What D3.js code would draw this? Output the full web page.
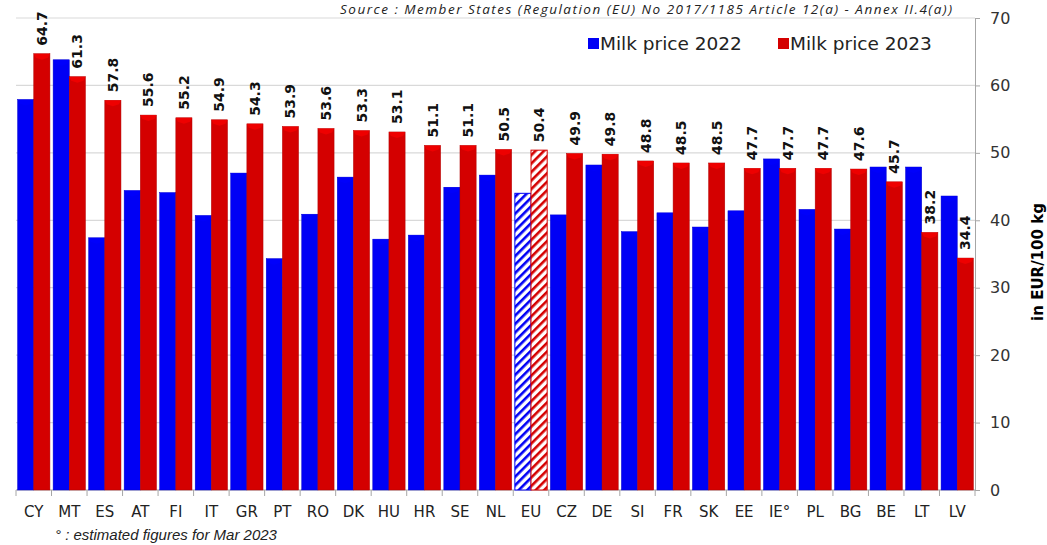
<!DOCTYPE html>
<html>
<head>
<meta charset="utf-8">
<script src="https://cdn.jsdelivr.net/npm/d3@7"></script>
<style>
  body { margin: 0; background: #fff; }
  svg { display: block; font-family: "DejaVu Sans", Verdana, sans-serif; }
</style>
</head>
<body>
<div id="app"></div>
<script>
const countries = ['CY', 'MT', 'ES', 'AT', 'FI', 'IT', 'GR', 'PT', 'RO', 'DK', 'HU', 'HR', 'SE', 'NL', 'EU',
  'CZ', 'DE', 'SI', 'FR', 'SK', 'EE', 'IE°', 'PL', 'BG', 'BE', 'LT', 'LV'];
const price2022 = [57.9, 63.8, 37.4, 44.4, 44.1, 40.7, 47.0, 34.3, 40.9, 46.4, 37.2, 37.8, 44.9, 46.7, 44.0,
  40.8, 48.2, 38.3, 41.1, 39.0, 41.4, 49.1, 41.6, 38.7, 47.9, 47.9, 43.6];
const price2023 = [64.7, 61.3, 57.8, 55.6, 55.2, 54.9, 54.3, 53.9, 53.6, 53.3, 53.1, 51.1, 51.1, 50.5, 50.4,
  49.9, 49.8, 48.8, 48.5, 48.5, 47.7, 47.7, 47.7, 47.6, 45.7, 38.2, 34.4];
const seriesNames = ['Milk price 2022', 'Milk price 2023'];
const yTicks = [0, 10, 20, 30, 40, 50, 60, 70];

const width = 1047;
const height = 545;
const colors = { '2022': '#0000f5', '2023': '#d40000' };

const svg = d3.select('#app').append('svg')
  .attr('width', width)
  .attr('height', height);

const plot = { left: 16, right: 975, top: 18, bottom: 490 };

const x = d3.scaleBand()
  .domain(countries)
  .range([plot.left, plot.right])
  .paddingInner(0.09)
  .paddingOuter(0.045);
const xs = d3.scaleBand()
  .domain(['2022', '2023'])
  .range([0, x.bandwidth()]);
const y = d3.scaleLinear().domain([0, 70]).range([plot.bottom, plot.top]);

// hatch patterns for EU
const defs = svg.append('defs');
[['2022', colors['2022']], ['2023', colors['2023']]].forEach(([k, c]) => {
  const p = defs.append('pattern')
    .attr('id', `hatch${k}`)
    .attr('patternUnits', 'userSpaceOnUse')
    .attr('width', 6).attr('height', 6)
    .attr('patternTransform', 'rotate(45)');
  p.append('rect').attr('width', 6).attr('height', 6).attr('fill', '#fff');
  p.append('rect').attr('width', 2.6).attr('height', 6).attr('fill', c);
});

// grid
svg.append('g')
  .selectAll('line')
  .data(yTicks.filter(d => d > 0))
  .join('line')
  .attr('x1', plot.left).attr('x2', plot.right)
  .attr('y1', d => y(d)).attr('y2', d => y(d))
  .attr('stroke', '#d9d9d9').attr('stroke-width', 1.2);

// right y axis
const yAxis = svg.append('g')
  .attr('transform', `translate(${plot.right},0)`)
  .call(d3.axisRight(y).tickValues(yTicks).tickSize(5).tickPadding(10));
yAxis.select('.domain').attr('stroke', '#a6a6a6');
yAxis.selectAll('.tick line').attr('stroke', '#a6a6a6');
yAxis.selectAll('.tick text').attr('font-size', 16).attr('fill', '#333')
  .attr('font-family', '"DejaVu Sans", sans-serif');

svg.append('text')
  .attr('transform', `translate(1043,${(plot.top + plot.bottom) / 2 + 8}) rotate(-90)`)
  .attr('text-anchor', 'middle')
  .attr('font-size', 15).attr('font-weight', 'bold').attr('fill', '#000')
  .text('in EUR/100 kg');

// x axis
const xAxis = svg.append('g');
xAxis.append('line')
  .attr('x1', plot.left).attr('x2', plot.right)
  .attr('y1', plot.bottom).attr('y2', plot.bottom)
  .attr('stroke', '#a6a6a6');
const step = x.step();
const bounds = d3.range(countries.length + 1).map(i => plot.left + x.paddingOuter() * step - x.paddingInner() * step / 2 + i * step);
xAxis.selectAll('line.tk')
  .data(bounds)
  .join('line')
  .attr('class', 'tk')
  .attr('x1', d => d).attr('x2', d => d)
  .attr('y1', plot.bottom).attr('y2', plot.bottom + 6)
  .attr('stroke', '#a6a6a6');
xAxis.selectAll('text')
  .data(countries)
  .join('text')
  .attr('x', d => x(d) + x.bandwidth() / 2)
  .attr('y', 517)
  .attr('text-anchor', 'middle')
  .attr('font-size', 15).attr('fill', '#222')
  .text(d => d);

// bars
const rows = countries.map((c, i) => ({ c, v: [['2022', price2022[i]], ['2023', price2023[i]]] }));
const groups = svg.append('g').selectAll('g')
  .data(rows)
  .join('g')
  .attr('transform', d => `translate(${x(d.c)},0)`);

groups.each(function (d) {
  const g = d3.select(this);
  const eu = d.c === 'EU';
  d.v.forEach(([k, v]) => {
    const bx = xs(k), bw = xs.bandwidth(), by = y(v), bh = y(0) - y(v);
    g.append('rect')
      .attr('x', bx).attr('y', by)
      .attr('width', bw).attr('height', bh)
      .attr('fill', eu ? `url(#hatch${k})` : colors[k])
      .attr('stroke', eu ? colors[k] : d3.color(colors[k]).darker(0.5))
      .attr('stroke-width', eu ? 1 : 0.5);
    if (!eu) {
      g.append('path')
        .attr('d', `M${bx},${by}L${bx + bw},${by}L${bx + bw - 2},${by + 4}L${bx + bw / 2},${by + 6}L${bx + 2},${by + 4}Z`)
        .attr('fill', d3.color(colors[k]).brighter(0.7))
        .attr('opacity', 0.6);
    }
  });
  // value label for 2023
  const v23 = d.v[1][1];
  g.append('text')
    .attr('transform', `translate(${xs('2023') + xs.bandwidth() / 2 + 5},${y(v23) - 8}) rotate(-90)`)
    .attr('font-size', 14).attr('font-weight', 'bold').attr('fill', '#111')
    .text(v23.toFixed(1));
});

// legend
const legend = svg.append('g').attr('transform', 'translate(588,44)');
[['2022', 0], ['2023', 190]].forEach(([k, dx], i) => {
  legend.append('rect')
    .attr('x', dx).attr('y', -6).attr('width', 11).attr('height', 11)
    .attr('fill', colors[k]);
  legend.append('text')
    .attr('x', dx + 12).attr('y', 6)
    .attr('font-size', 18.5).attr('fill', '#222')
    .text(seriesNames[i]);
});

// source & footnote
svg.append('text')
  .attr('x', 340).attr('y', 14)
  .attr('font-family', '"Open Sans", sans-serif')
  .attr('font-style', 'italic').attr('font-size', 13.5).attr('fill', '#222')
  .attr('textLength', 612)
  .text('Source : Member States (Regulation (EU) No 2017/1185 Article 12(a) - Annex II.4(a))');

svg.append('text')
  .attr('x', 55).attr('y', 540)
  .attr('font-family', '"Liberation Sans", Arial, sans-serif')
  .attr('font-style', 'italic').attr('font-size', 15).attr('fill', '#222')
  .text('° : estimated figures for Mar 2023');
</script>
</body>
</html>
